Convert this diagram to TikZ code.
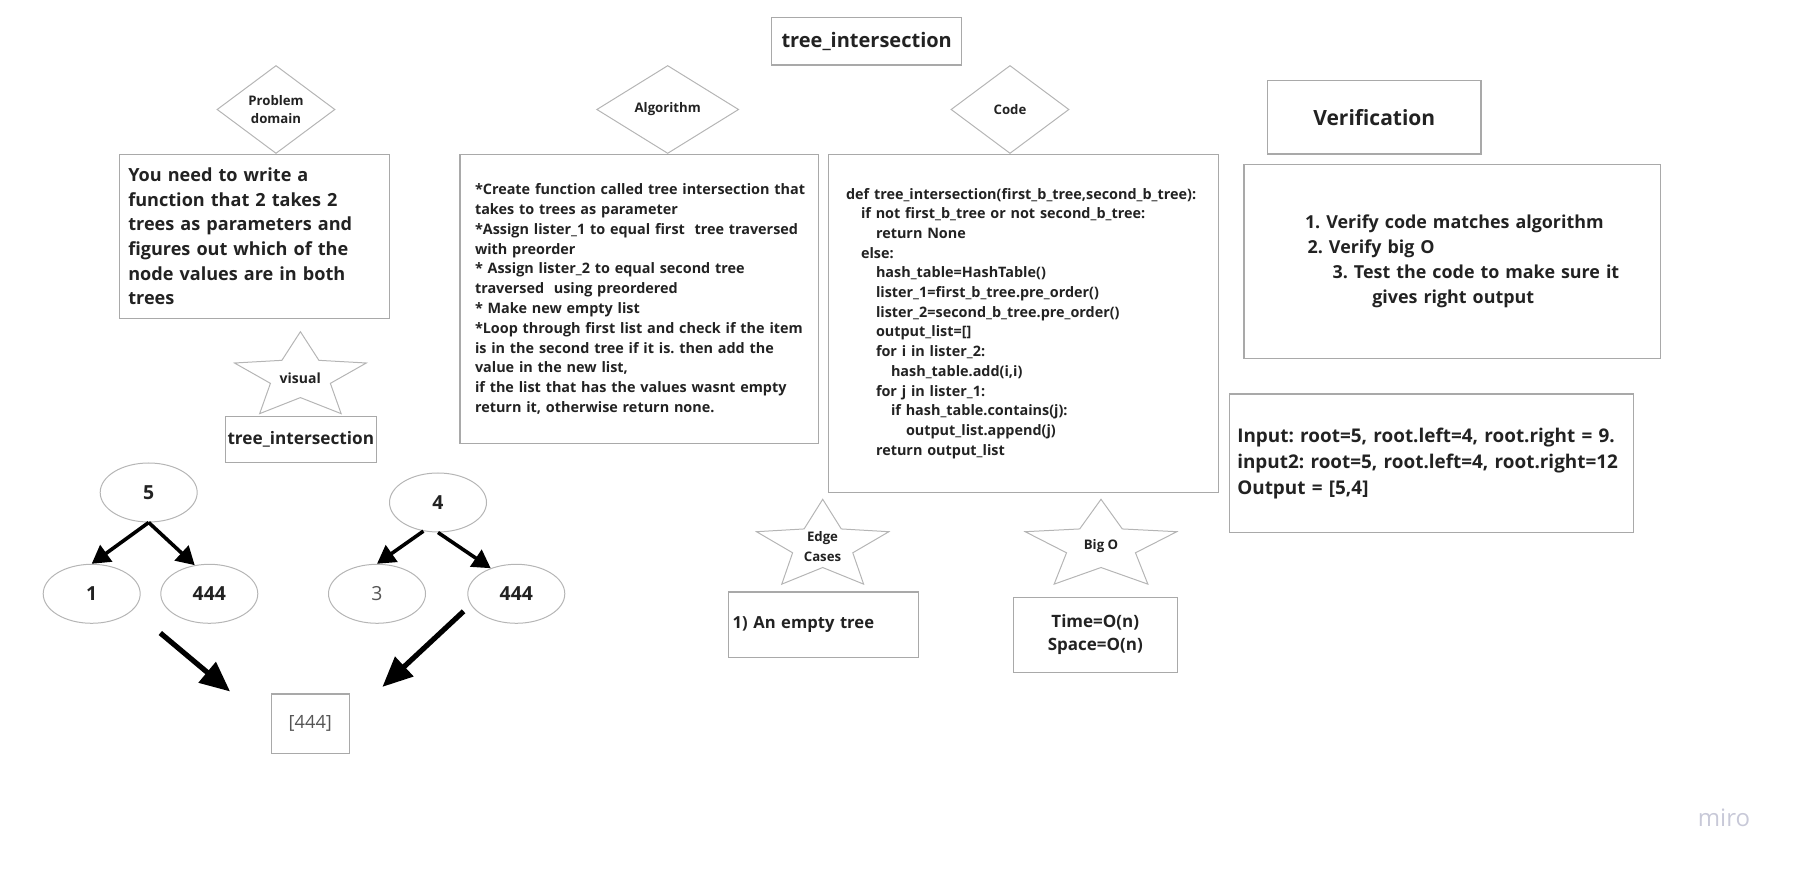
\documentclass[tikz,border=0pt]{standalone}
\usepackage{fontspec}
\setmainfont{Open Sans}
\usetikzlibrary{shapes.geometric,arrows.meta}

\definecolor{boxgray}{HTML}{A9A9A9}
\definecolor{shapegray}{HTML}{B5B5B5}
\definecolor{ink}{HTML}{222222}
\definecolor{softink}{HTML}{555555}
\definecolor{mirogray}{HTML}{C8C9D8}

\newcommand\fs[2]{\fontsize{#1}{#2}\selectfont}
\newcommand\tb{\hspace*{7.5pt}}

\begin{document}
\frenchspacing
\begin{tikzpicture}[
    x=0.5pt, y=-0.5pt,
    every node/.style={text=ink},
    box/.style={rectangle, draw=boxgray, line width=0.7pt, inner sep=0pt},
    rhomb/.style={diamond, draw=shapegray, line width=0.5pt, inner sep=0pt,
        align=center, minimum height=44pt, font=\bfseries\fs{6.6}{9}},
    starshape/.style={star, star points=5, star point ratio=2.2, draw=shapegray,
        line width=0.5pt, inner sep=0pt, minimum size=#1},
    oval/.style={ellipse, draw=shapegray, line width=0.5pt, inner sep=0pt,
        minimum width=48.5pt, minimum height=29.5pt, font=\bfseries\fs{9.7}{12}},
    treearrow/.style={line width=1.8pt, -{Triangle[length=9pt,width=10pt]}},
    bigarrow/.style={line width=2.6pt, -{Triangle[length=15pt,width=13pt]}}
]
\useasboundingbox (0,0) rectangle (1795,870);

\node[box, minimum width=95pt, minimum height=23.85pt, font=\bfseries\fs{10}{12}]
    (title) at (866.7,41.2) {tree\_intersection};

% problem domain
\node[rhomb, minimum width=59pt] (probdiam) at (276,109.5) {Problem\\domain};
\node[box, minimum width=135pt, minimum height=82pt, text width=126pt, inner xsep=4.5pt,
    align=left, font=\bfseries\fs{9.05}{12.35}] (problem) at (254.3,236.3)
    {You need to write a\\function that 2 takes 2\\trees as parameters and\\
     figures out which of the\\node values are in both\\trees};

% visual
\node[starshape=45.3pt, xscale=1.53] (visualstar) at (300.4,377) {};
\node[font=\bfseries\fs{7}{9}] (visual) at (300.3,378.3) {visual};
\node[box, minimum width=75.5pt, minimum height=23pt, font=\bfseries\fs{8.6}{10}]
    (smalltitle) at (300.8,439.7) {tree\_intersection};

% trees
\node[oval] (five) at (148.7,492.5) {5};
\node[oval] (one) at (91.7,593.8) {1};
\node[oval] (lfour) at (209.3,593.8) {444};
\node[oval] (four) at (438,502.5) {4};
\node[oval, font=\mdseries\fs{9.7}{12}, text=softink] (three) at (377,593.8) {3};
\node[oval] (rfour) at (516.3,593.8) {444};
\node[box, minimum width=39pt, minimum height=29.7pt, font=\mdseries\fs{9.1}{11}, text=softink]
    (result) at (310.3,723.7) {[444]};

\draw[treearrow] (five.south) -- (one.north);
\draw[treearrow] (five.south) -- (lfour.117);
\draw[treearrow] (four.243) -- (three.north);
\draw[treearrow] (four.south) -- (rfour.135);

\coordinate (lfrom) at (160.3,633);
\coordinate (lto) at (230.1,691.5);
\coordinate (rfrom) at (463.6,611.3);
\coordinate (rto) at (382.4,686.9);
\draw[bigarrow] (lfrom) -- (lto);
\draw[bigarrow] (rfrom) -- (rto);

% algorithm
\node[rhomb, minimum width=71pt] (algdiam) at (667.7,109.5) {Algorithm};
\node[box, minimum width=179.35pt, minimum height=144.7pt, text width=164.35pt, inner xsep=7.5pt,
    align=left, font=\bfseries\fs{7.2}{9.9}] (algorithm) at (639.35,299)
    {\mbox{*Create function called tree intersection that}\\
     takes to trees as parameter\\
     \mbox{*Assign lister\_1 to equal first\ \ tree traversed}\\
     with preorder\\
     \mbox{* Assign lister\_2 to equal second tree}\\
     traversed\ \ using preordered\\
     \mbox{* Make new empty list}\\
     \mbox{*Loop through first list and check if the item}\\
     \mbox{is in the second tree if it is. then add the}\\
     value in the new list,\\
     \mbox{if the list that has the values wasnt empty}\\
     return it, otherwise return none.};

% code
\node[rhomb, minimum width=59pt] (codediam) at (1010,109.5) {Code};
\node[box, minimum width=195.1pt, minimum height=169pt, text width=177.4pt, inner xsep=8.85pt,
    align=left, font=\bfseries\fs{7.2}{9.85}] (code) at (1023.4,323.3)
    {\mbox{def tree\_intersection(first\_b\_tree,second\_b\_tree):}\\
     \mbox{\tb if not first\_b\_tree or not second\_b\_tree:}\\
     \tb\tb return None\\
     \tb else:\\
     \tb\tb hash\_table=HashTable()\\
     \tb\tb lister\_1=first\_b\_tree.pre\_order()\\
     \mbox{\tb\tb lister\_2=second\_b\_tree.pre\_order()}\\
     \tb\tb output\_list=[]\\
     \tb\tb for i in lister\_2:\\
     \tb\tb\tb hash\_table.add(i,i)\\
     \tb\tb for j in lister\_1:\\
     \tb\tb\tb if hash\_table.contains(j):\\
     \tb\tb\tb\tb output\_list.append(j)\\
     \tb\tb return output\_list};

% verification
\node[box, minimum width=106.7pt, minimum height=36.7pt, font=\bfseries\fs{10.5}{12}]
    (verhead) at (1374.3,117.3) {Verification};
\node[box, minimum width=208.3pt, minimum height=97pt, text width=200.3pt, inner xsep=4pt,
    align=left, font=\bfseries\fs{8.95}{12.35}] (verify) at (1452.3,261.3)
    {\hspace*{26.5pt}1. Verify code matches algorithm\\
     \hspace*{27.85pt}2. Verify big O\\
     \hspace*{40.35pt}3. Test the code to make sure it\\
     \hspace*{60.15pt}gives right output};

% example
\node[box, minimum width=202pt, minimum height=69.2pt, text width=194pt, inner xsep=4pt,
    align=left, font=\bfseries\fs{9.45}{13}] (example) at (1431.3,463.2)
    {\mbox{Input: root=5, root.left=4, root.right = 9.}\\
     \mbox{input2: root=5, root.left=4, root.right=12}\\
     Output = [5,4]};

% edge cases
\node[starshape=46.9pt, xscale=1.484] (edgestar) at (822.7,546.2) {};
\node[align=center, font=\bfseries\fs{6.6}{10}] (edge) at (822.5,546.7) {Edge\\Cases};
\node[box, minimum width=95pt, minimum height=32.7pt, text width=90.6pt, inner xsep=2.2pt,
    align=left, font=\bfseries\fs{8.3}{11}] (edgebox) at (823.3,624.7) {1) An empty tree};

% big o
\node[starshape=46.9pt, xscale=1.70] (bigostar) at (1101,546.2) {};
\node[font=\bfseries\fs{6.6}{9}] (bigo) at (1101,546) {Big O};
\node[box, minimum width=82pt, minimum height=37.7pt, align=center, font=\bfseries\fs{8.5}{11.5}]
    (cost) at (1095.3,635) {Time=O(n)\\Space=O(n)};

\node[anchor=base, font=\fs{12}{14}, text=mirogray] (miro) at (1724,826.7) {miro};

\end{tikzpicture}
\end{document}
